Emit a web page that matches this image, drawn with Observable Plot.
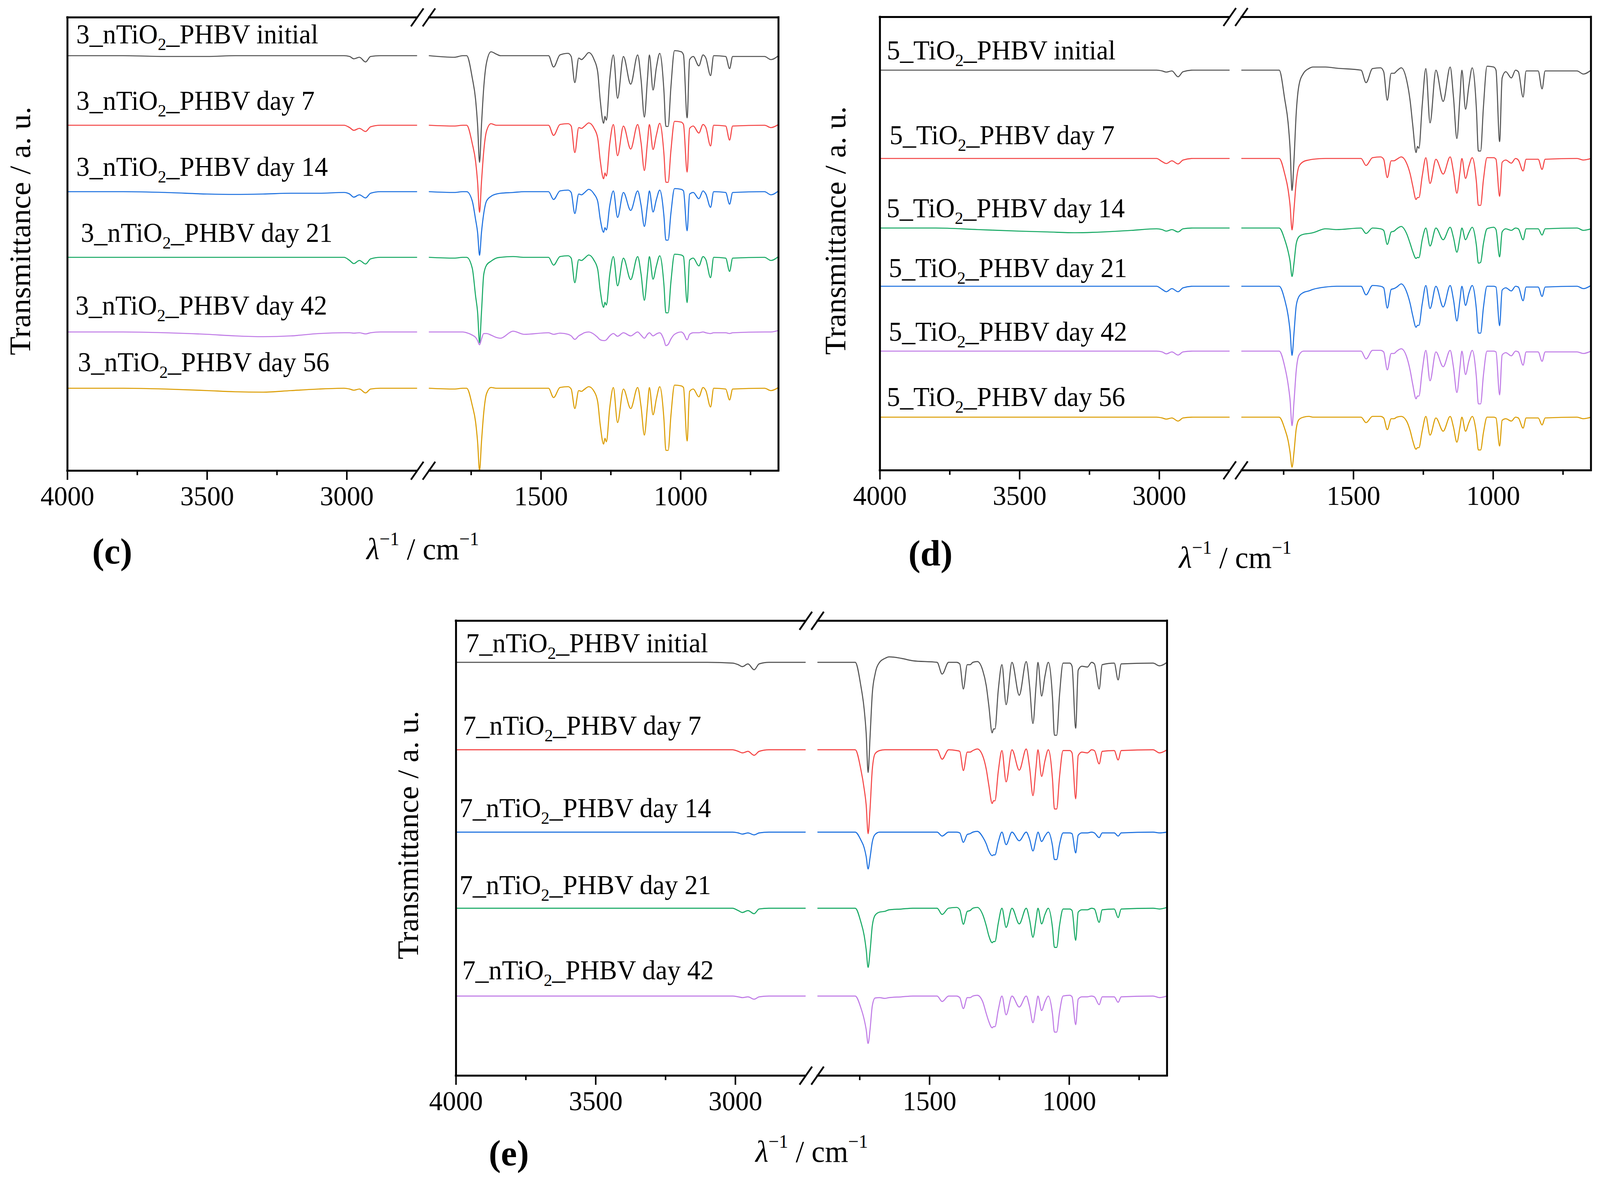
<!DOCTYPE html>
<html>
<head>
<meta charset="utf-8">
<script src="https://cdn.jsdelivr.net/npm/d3@7"></script>
<script src="https://cdn.jsdelivr.net/npm/@observablehq/plot@0.6"></script>
<style>
  html, body { margin: 0; padding: 0; background: #fff; overflow: hidden; }
  #page { position: relative; width: 4163px; height: 3017px; font-family: "Liberation Serif", serif; color: #000; transform-origin: 0 0; }
  #page svg { position: absolute; }
  .txt { position: absolute; white-space: nowrap; line-height: 1; transform: translate(-50%, -50%); }
  .ytitle { font-size: 78px; transform: translate(-50%, -50%) rotate(-90deg); }
  .xtitle { font-size: 78px; }
  .xtitle sup { font-size: 0.62em; vertical-align: 0.75em; line-height: 0; }
  .letter { font-size: 94px; font-weight: bold; }
</style>
</head>
<body>
<div id="page"></div>
<script>
// wavenumbers (cm-1) of the points, high side of the break then low side
const W_LEFT = [4000, 3800, 3650, 3500, 3400, 3300, 3200, 3100, 3010, 2990, 2975, 2955, 2933, 2915, 2880, 2750];
const W_RIGHT = [1900, 1810, 1780, 1766, 1746, 1734, 1727, 1720, 1713, 1705,
  1695, 1679, 1660, 1645, 1600, 1560, 1473, 1455, 1432, 1403,
  1392, 1379, 1365, 1355, 1345, 1329, 1310, 1297, 1288, 1276,
  1271, 1266, 1254, 1241, 1226, 1205, 1179, 1154, 1142, 1130,
  1119, 1112, 1099, 1087, 1075, 1060, 1053, 1045, 1035, 1022,
  998, 990, 977, 968, 955, 935, 920, 910, 893, 882,
  839, 825, 814, 700, 677, 650];

// absorption depth below each baseline (a.u.), panel (c)
const C0_L = [0, 0, 2, 2, 0, 0, 0, 0, 0, 2, 8, 4, 16, 2, 0, 0];
const C0_R = [0, 4, 0, 0, 57, 113, 177, 273, 177, 82, 18, -10, -4, 0, 0, 0, 0, 29, -2, -6,
  2, 69, 6, 10, 4, -8, 10, 42, 114, 173, 155, 165, 60, -2, 109, 2, 73, -2, 60, 157,
  60, -2, 88, 30, -6, 90, 181, 181, 80, -13, -10, -2, 159, 10, 2, 26, -2, 6, 51, 0,
  2, 33, 2, 2, 10, 0];
const C1_L = [0, 0, 0, 0, 0, 0, 0, 0, 0, 6, 13, 8, 16, 4, 0, 0];
const C1_R = [0, 2, 0, 0, 47, 93, 145, 223, 145, 67, 15, -4, 0, 0, 0, 0, 0, 26, -2, -4,
  2, 70, 6, 8, 3, -6, 8, 33, 90, 137, 122, 130, 47, -2, 78, 2, 61, -2, 44, 116,
  44, -2, 62, 25, -5, 73, 146, 146, 65, -10, -8, -2, 120, 8, 2, 20, -2, 6, 53, 0,
  2, 38, 2, 0, 6, -2];
const C2_L = [0, 0, 2, 6, 7, 6, 4, 4, 2, 6, 14, 8, 16, 4, 0, 0];
const C2_R = [0, 2, 0, 0, 24, 72, 104, 163, 104, 56, 24, 12, 6, 4, 2, 0, 0, 20, -2, -4,
  2, 56, 6, 8, 3, -6, 6, 25, 70, 104, 92, 98, 36, -2, 66, 2, 48, -2, 34, 89,
  34, -2, 52, 20, -4, 62, 124, 124, 55, -8, -6, -2, 100, 6, 2, 18, -2, 6, 40, 0,
  2, 32, 2, 0, 8, -2];
const C3_L = [0, 0, 0, 0, 0, 0, 0, 0, 0, 8, 16, 8, 17, 4, 0, 0];
const C3_R = [0, 2, 0, 0, 28, 100, 140, 219, 140, 44, 20, 10, 2, 0, -2, 0, 0, 20, -2, -4,
  2, 65, 6, 8, 3, -6, 8, 31, 85, 128, 115, 122, 44, -2, 73, 2, 57, -2, 42, 110,
  42, -2, 56, 22, -4, 70, 142, 142, 63, -8, -6, -2, 116, 7, 2, 22, -2, 6, 52, 0,
  2, 36, 2, 0, 8, -2];
const C4_L = [0, 0, 2, 6, 10, 12, 10, 4, 2, 2, 3, 2, 5, 2, 0, 0];
const C4_R = [0, 0, 0, 2, 8, 14, 22, 33, 18, 4, 4, 8, 14, 16, -2, 6, 2, 6, 3, 6,
  10, 19, 10, 6, 2, 0, 6, 14, 20, 22, 22, 20, 10, 4, 11, 2, 10, 0, 8, 16,
  6, 2, 10, 5, 2, 20, 35, 32, 18, 6, 0, 4, 20, 6, 2, 2, 0, 2, 4, 2,
  2, 4, 2, 0, 0, -4];
const C5_L = [0, 0, 2, 6, 9, 10, 6, 2, 0, 2, 5, 2, 12, 2, 0, 0];
const C5_R = [0, 2, 0, 0, 44, 87, 137, 211, 137, 63, 14, -2, 0, 0, 0, 0, 0, 24, -2, -4,
  2, 52, 6, 8, 3, -4, 8, 35, 94, 143, 128, 137, 50, -2, 88, 2, 52, -2, 46, 120,
  46, -2, 68, 27, -4, 79, 159, 159, 70, -8, -6, -2, 135, 8, 2, 22, -2, 6, 48, 0,
  2, 30, 2, 0, 6, -2];

// panel (d)
const D0_L = [0, 0, 0, 0, 0, 0, 0, 0, 0, 2, 5, 2, 17, 4, 0, 0];
const D0_R = [0, 0, 0, 0, 75, 135, 200, 308, 230, 110, 38, 8, -4, -8, -8, -5, 0, 32, -4, -6,
  4, 77, 8, 8, 2, -6, 25, 80, 140, 211, 195, 200, 90, -4, 135, 0, 80, -8, 70, 175,
  70, 0, 100, 40, -6, 100, 207, 207, 95, -10, -8, 0, 183, 20, 4, 20, 0, 4, 69, 2,
  2, 48, 2, 2, 10, 0];
const D1_L = [0, 0, 0, 0, 0, 0, 0, 0, 0, 8, 13, 6, 14, 4, 0, 0];
const D1_R = [0, 0, 0, 0, 40, 80, 120, 183, 130, 60, 20, 8, 4, 2, 0, 0, 0, 18, -2, -4,
  2, 49, 6, 6, 2, -4, 12, 40, 70, 105, 100, 100, 45, -2, 64, 2, 40, -4, 35, 89,
  35, 0, 51, 20, -2, 60, 120, 120, 55, -2, -2, 2, 97, 10, 4, 12, 0, 4, 32, 2,
  2, 28, 2, 0, 4, 0];
const D2_L = [0, 0, 4, 8, 10, 12, 10, 6, 2, 4, 8, 4, 10, 2, 0, 0];
const D2_R = [0, 0, 0, 0, 30, 60, 85, 124, 90, 40, 22, 16, 14, 12, 2, 4, 0, 14, 0, 2,
  6, 42, 10, 8, 2, -4, 14, 40, 60, 78, 75, 76, 30, 0, 46, 0, 30, -2, 25, 62,
  25, 0, 30, 12, -2, 45, 90, 88, 40, 2, -2, 4, 74, 10, 2, 6, 0, 2, 30, 2,
  2, 18, 2, 0, 6, 2];
const D3_L = [0, 0, 0, 0, 0, 0, 0, 0, 0, 8, 14, 6, 14, 4, 0, 0];
const D3_R = [0, 0, 0, 0, 35, 75, 115, 177, 120, 50, 26, 16, 12, 8, 2, 0, 0, 22, -2, 0,
  4, 56, 8, 6, 2, -6, 14, 45, 75, 105, 100, 100, 45, -2, 57, 0, 53, -2, 35, 89,
  35, 0, 49, 18, -2, 60, 120, 120, 55, 0, 0, 2, 101, 10, 4, 12, 0, 2, 37, 2,
  2, 26, 2, 0, 6, -2];
const D4_L = [0, 0, 0, 0, 0, 0, 0, 0, 0, 2, 7, 2, 10, 2, 0, 0];
const D4_R = [0, 0, 0, 0, 40, 85, 125, 191, 130, 50, 10, 0, 0, 0, 0, 0, 0, 20, -2, -2,
  2, 48, 6, 6, 0, -6, 14, 50, 85, 122, 115, 115, 50, -2, 76, 2, 40, -2, 42, 106,
  42, 0, 60, 24, -2, 68, 135, 135, 62, 0, 0, 2, 112, 10, 4, 12, 0, 2, 36, 2,
  2, 26, 2, 2, 6, 0];
const D5_L = [0, 0, 0, 0, 0, 0, 0, 0, 0, 2, 5, 2, 10, 2, 0, 0];
const D5_R = [0, 0, 0, 0, 30, 60, 90, 128, 90, 30, 6, 0, -2, 0, 0, 0, 0, 14, -2, -2,
  2, 32, 4, 4, 0, -2, 10, 35, 60, 82, 78, 78, 35, -2, 46, 2, 36, -2, 26, 64,
  26, 0, 36, 14, -2, 42, 84, 84, 40, 0, 0, 2, 74, 8, 4, 10, 0, 2, 28, 2,
  2, 20, 2, 0, 4, 0];

// panel (e)
const E0_L = [0, 0, 0, 0, 0, 0, 0, 0, 2, 6, 11, 4, 19, 4, 0, 0];
const E0_R = [0, 0, 0, 0, 60, 120, 180, 281, 190, 80, 30, 0, -10, -14, -10, -4, 0, 30, 0, 0,
  4, 68, 6, 6, 0, -2, 20, 60, 110, 180, 170, 170, 70, 6, 108, 0, 84, -2, 60, 156,
  60, 0, 86, 35, 0, 90, 186, 186, 85, 2, 2, 10, 168, 20, 10, 12, 0, 4, 68, 6,
  2, 45, 4, 2, 9, 0];
const E1_L = [0, 0, 0, 0, 0, 0, 0, 0, 0, 4, 8, 4, 14, 4, 0, 0];
const E1_R = [0, 0, 0, 0, 50, 100, 140, 214, 150, 50, 10, 2, 0, 0, 0, 0, 0, 24, 0, 2,
  4, 53, 6, 6, 2, -2, 15, 50, 90, 137, 130, 130, 55, 2, 82, 0, 52, -2, 45, 117,
  45, 0, 68, 28, 0, 75, 151, 151, 70, 2, 2, 8, 125, 15, 6, 8, 0, 2, 36, 4,
  2, 26, 2, 0, 8, 0];
const E2_L = [0, 0, 0, 0, 0, 0, 0, 0, 0, 2, 5, 2, 7, 2, 0, 0];
const E2_R = [0, 0, 0, 0, 20, 40, 62, 94, 65, 25, 6, 0, 0, 0, 0, 0, 0, 10, 0, 0,
  2, 26, 6, 4, 0, -2, 12, 30, 48, 60, 58, 58, 25, 0, 32, 0, 22, 0, 18, 48,
  18, 0, 24, 10, 0, 35, 70, 70, 32, 2, 2, 4, 53, 8, 2, 2, 0, 2, 14, 2,
  2, 10, 2, 0, 2, 0];
const E3_L = [0, 0, 0, 0, 0, 0, 0, 0, 0, 6, 11, 6, 14, 2, 0, 0];
const E3_R = [0, 0, 0, 0, 35, 70, 105, 151, 110, 45, 18, 10, 8, 4, 2, 0, 0, 16, 0, -2,
  4, 41, 8, 6, 0, -2, 16, 45, 70, 88, 85, 85, 38, 0, 49, 0, 40, 0, 30, 74,
  30, 0, 40, 16, 0, 50, 100, 100, 45, 2, 2, 6, 82, 10, 4, 4, 0, 2, 36, 4,
  2, 24, 2, 0, 2, -2];
const E4_L = [0, 0, 0, 0, 0, 0, 0, 0, 0, 2, 4, 2, 8, 2, 0, 0];
const E4_R = [0, 0, 0, 0, 30, 60, 85, 121, 85, 25, 5, 4, 6, 4, 2, 0, 0, 14, 0, 0,
  4, 32, 4, 4, 0, -2, 14, 45, 65, 81, 78, 78, 35, 0, 48, 0, 28, 0, 27, 68,
  27, 0, 37, 15, 0, 46, 92, 92, 42, 0, -2, 2, 73, 8, 2, 2, 0, 2, 22, 2,
  2, 16, 2, 0, 4, 0];

// baseline level of each trace (a.u., counted up from the bottom axis)
const C_BASE = [1062, 884, 714, 546, 355, 211];
const D_BASE = [1024, 798, 620, 471, 305, 136];
const E_BASE = [1054, 831, 621, 427, 203];

const C_LABELS = ["3_nTiO2_PHBV initial", "3_nTiO2_PHBV day 7", "3_nTiO2_PHBV day 14",
  "3_nTiO2_PHBV day 21", "3_nTiO2_PHBV day 42", "3_nTiO2_PHBV day 56"];
const D_LABELS = ["5_TiO2_PHBV initial", "5_TiO2_PHBV day 7", "5_TiO2_PHBV day 14",
  "5_TiO2_PHBV day 21", "5_TiO2_PHBV day 42", "5_TiO2_PHBV day 56"];
const E_LABELS = ["7_nTiO2_PHBV initial", "7_nTiO2_PHBV day 7", "7_nTiO2_PHBV day 14",
  "7_nTiO2_PHBV day 21", "7_nTiO2_PHBV day 42"];

const MAJOR_TICKS = [4000, 3500, 3000, 1500, 1000];
const MINOR_TICKS = [3750, 3250, 1750, 1250, 750];

// colours
const GRAY = "#515151", RED = "#F44343", BLUE = "#1A6FDF", GREEN = "#14A862", PURPLE = "#BF7AE6", ORANGE = "#DB9C00";

// broken axis: 4000..2750 then 1900..650
const X_MAX = 4000, BREAK_HI = 2750, BREAK_LO = 1900, X_MIN = 650, GAP = 45;
const toU = w => w >= BREAK_HI ? X_MAX - w : (X_MAX - BREAK_HI) + GAP + (BREAK_LO - w);
const U_MAX = toU(X_MIN);
const U_HI = X_MAX - BREAK_HI;
const YMAX = 1160;

const panels = [
  {series: [[C0_L, C0_R], [C1_L, C1_R], [C2_L, C2_R], [C3_L, C3_R], [C4_L, C4_R], [C5_L, C5_R]],
   base: C_BASE, labels: C_LABELS, colors: [GRAY, RED, BLUE, GREEN, PURPLE, ORANGE],
   dx: [23, 23, 23, 35, 21, 27], dy: [32, 40, 41, 40, 45, 44],
   left: 0, top: 0, mt: 44, mr: 38, fh: 1160,
   letter: "(c)", yt: [52, 591], xt: [1100, 1405], lt: [292, 1410]},
  {series: [[D0_L, D0_R], [D1_L, D1_R], [D2_L, D2_R], [D3_L, D3_R], [D4_L, D4_R], [D5_L, D5_R]],
   base: D_BASE, labels: D_LABELS, colors: [GRAY, RED, GREEN, BLUE, PURPLE, ORANGE],
   dx: [18, 25, 17, 23, 23, 18], dy: [28, 37, 28, 24, 27, 29],
   left: 2114, top: 0, mt: 43, mr: 20, fh: 1160,
   letter: "(d)", yt: [2173, 590], xt: [3214, 1427], lt: [2421, 1415]},
  {series: [[E0_L, E0_R], [E1_L, E1_R], [E2_L, E2_R], [E3_L, E3_R], [E4_L, E4_R]],
   base: E_BASE, labels: E_LABELS, colors: [GRAY, RED, BLUE, GREEN, PURPLE],
   dx: [26, 18, 9, 9, 16], dy: [26, 39, 38, 36, 43],
   left: 1011, top: 1544, mt: 44, mr: 40, fh: 1164,
   letter: "(e)", yt: [1062, 2137], xt: [2112, 2947], lt: [1324, 2950]}
];

const ML = 175, MB = 110, FW = 1850;
const page = d3.select("#page");

// fit the 4163 x 3017 layout to whatever viewport the page is given
page.style("transform", `scale(${window.innerWidth / 4163}, ${window.innerHeight / 3017})`);

panels.forEach(p => {
  const lines = p.series.map(([L, R], i) => {
    const rows = [];
    L.forEach((d, j) => rows.push({u: toU(W_LEFT[j]), y: p.base[i] - d, seg: 0}));
    R.forEach((d, j) => rows.push({u: toU(W_RIGHT[j]), y: p.base[i] - d, seg: 1}));
    return Plot.line(rows, {x: "u", y: "y", z: "seg", stroke: p.colors[i], strokeWidth: 2.7,
      curve: "monotone-x", strokeLinejoin: "round"});
  });

  const labels = p.labels.map((t, i) => Plot.text([t], {
    x: 0, y: p.base[i], dx: p.dx[i], dy: -p.dy[i],
    textAnchor: "start", lineAnchor: "bottom", fontSize: 69, fill: "black"
  }));

  const edges = [
    {y: 0, a: 0, b: U_HI}, {y: 0, a: U_HI + GAP, b: U_MAX},
    {y: YMAX, a: 0, b: U_HI}, {y: YMAX, a: U_HI + GAP, b: U_MAX}
  ];
  const mid = U_HI + GAP / 2;
  const slashes = [];
  [0, YMAX].forEach(y => [-21, 21].forEach(o => slashes.push({x1: mid + o - 22, y1: y - 23, x2: mid + o + 23, y2: y + 23})));

  const tickLabel = new Map(MAJOR_TICKS.map(w => [toU(w), String(w)]));

  const chart = Plot.plot({
    width: ML + FW + p.mr,
    height: p.mt + p.fh + MB,
    marginLeft: ML,
    marginRight: p.mr,
    marginTop: p.mt,
    marginBottom: MB,
    style: {fontFamily: "'Liberation Serif', serif", fontSize: "70px", color: "black", background: "transparent", overflow: "visible"},
    x: {domain: [0, U_MAX]},
    y: {domain: [0, YMAX], axis: null},
    marks: [
      ...lines,
      ...labels,
      Plot.ruleX([0, U_MAX], {stroke: "black", strokeWidth: 5, strokeLinecap: "square"}),
      Plot.ruleY(edges, {y: "y", x1: "a", x2: "b", stroke: "black", strokeWidth: 5, strokeLinecap: "square"}),
      Plot.link(slashes, {x1: "x1", y1: "y1", x2: "x2", y2: "y2", stroke: "black", strokeWidth: 4.5}),
      Plot.axisX(MAJOR_TICKS.map(toU), {tickSize: 24, tickPadding: 15, strokeWidth: 4, fontSize: 70,
        tickFormat: u => tickLabel.get(u), label: null}),
      Plot.axisX(MINOR_TICKS.map(toU), {tickSize: 12, strokeWidth: 4, tickFormat: () => "", label: null})
    ]
  });

  // subscript 2 in TiO2
  d3.select(chart).selectAll("text").each(function() {
    const m = /^(.*TiO)2(_.*)$/.exec(this.textContent);
    if (!m) return;
    const t = d3.select(this).text("");
    t.append("tspan").text(m[1]);
    t.append("tspan").attr("dy", 17).attr("font-size", 44).text("2");
    t.append("tspan").attr("dy", -17).text(m[2]);
  });

  d3.select(chart).style("left", p.left + "px").style("top", p.top + "px");
  page.append(() => chart);

  page.append("div").attr("class", "txt ytitle")
    .style("left", p.yt[0] + "px").style("top", p.yt[1] + "px")
    .text("Transmittance / a. u.");
  page.append("div").attr("class", "txt xtitle")
    .style("left", p.xt[0] + "px").style("top", p.xt[1] + "px")
    .html("<i>λ</i><sup>−1</sup> / cm<sup>−1</sup>");
  page.append("div").attr("class", "txt letter")
    .style("left", p.lt[0] + "px").style("top", p.lt[1] + "px")
    .text(p.letter);
});
</script>
</body>
</html>
